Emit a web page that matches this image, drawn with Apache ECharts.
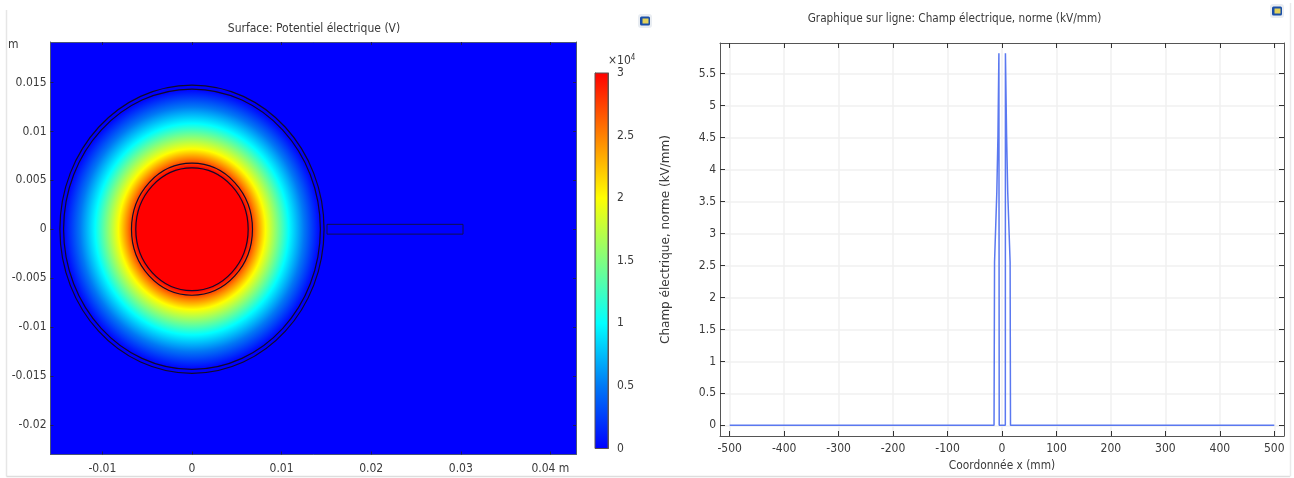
<!DOCTYPE html>
<html>
<head>
<meta charset="utf-8">
<style>html,body{margin:0;padding:0;background:#fff}#c{width:1294px;height:478px}</style>
<script src="https://cdn.jsdelivr.net/npm/echarts@6/dist/echarts.min.js"></script>
</head>
<body>
<div id="c"></div>
<script>
// --- values ---
const fieldXTicks = [-0.01, 0, 0.01, 0.02, 0.03, 0.04];
const fieldYTicks = [-0.02, -0.015, -0.01, -0.005, 0, 0.005, 0.01, 0.015];
const scaleTicks = [0, 0.5, 1, 1.5, 2, 2.5, 3];
const scaleColours = ['#0000ff', '#0078f5', '#00ffff', '#80ff80', '#ffff00', '#ff8000', '#ff0000'];
// potential (x10^4 V) read along a radius (m)
const profileRadius = [0.0063, 0.0072, 0.0082, 0.0095, 0.0108, 0.0125, 0.01433];
const profilePotential = [3, 2.5, 2, 1.5, 1, 0.5, 0];
const ringRadii = [0.00627, 0.00675, 0.01433, 0.01474];
const slotX = [0.01507, 0.03025, 0.03025, 0.01507, 0.01507];
const slotY = [-0.0005, -0.0005, 0.0005, 0.0005, -0.0005];

const lineXTicks = [-500, -400, -300, -200, -100, 0, 100, 200, 300, 400, 500];
const lineYTicks = [0, 0.5, 1, 1.5, 2, 2.5, 3, 3.5, 4, 4.5, 5, 5.5];
const coordX = [-500, -14.6, -13.7, -9.5, -7.4, -5.7, -5.3, -5.1, 6.1, 6.3, 6.7, 8.4, 10.5, 14.9, 15.6, 500];
const fieldNorm = [0, 0, 2.55, 3.65, 4.55, 5.82, 5.82, 0, 0, 5.82, 5.82, 4.55, 3.65, 2.55, 0, 0];

const font = 'DejaVu Sans Condensed';
const txt = '#3a3a3a';

function colourOf(v) {
  return scaleColours[scaleTicks.indexOf(v)];
}
const outerR = profileRadius[profileRadius.length - 1];
const radialStops = [{offset: 0, color: colourOf(3)}].concat(
  profileRadius.map((r, i) => ({offset: r / outerR, color: colourOf(profilePotential[i])}))
);
const barStops = scaleTicks.map(v => ({offset: v / 3, color: colourOf(v)}));

function axisBase(extra) {
  return Object.assign({
    type: 'value', scale: true,
    axisLine: {show: true, onZero: false, lineStyle: {color: '#4a5578', width: 1}},
    axisTick: {show: true, inside: true, length: 3, lineStyle: {color: '#1a1a60', width: 1}},
    axisLabel: {show: false},
    splitLine: {show: false}
  }, extra);
}
function withTicks(ax, ticks, labels, opts) {
  ax.axisTick.customValues = ticks;
  if (labels) {
    ax.axisLabel = Object.assign({show: true, customValues: ticks, fontFamily: font, fontSize: 12,
      color: txt, hideOverlap: false, showMinLabel: true, showMaxLabel: true}, opts);
  }
  return ax;
}

const fieldXRange = {min: -0.01579, max: 0.04286};
const fieldYRange = {min: -0.02303, max: 0.01914};
const lineXRange = {min: -517.8, max: 517.8};
const lineYRange = {min: -0.167, max: 5.98};

const xAxes = [
  withTicks(axisBase(Object.assign({gridIndex: 0, position: 'bottom'}, fieldXRange)), fieldXTicks, true,
    {margin: 8, formatter: v => v === 0.04 ? '0.04 m' : String(v)}),
  withTicks(axisBase(Object.assign({gridIndex: 0, position: 'top'}, fieldXRange)), fieldXTicks),
  withTicks(axisBase(Object.assign({gridIndex: 1, position: 'bottom', name: 'Coordonnée x (mm)', nameLocation: 'middle',
    nameGap: 23, nameTextStyle: {fontFamily: font, fontSize: 11.8, color: txt}}, lineXRange)), lineXTicks, true,
    {margin: 7, formatter: v => String(v)}),
  withTicks(axisBase(Object.assign({gridIndex: 1, position: 'top'}, lineXRange)), lineXTicks),
  axisBase({gridIndex: 2, min: 0, max: 1, show: false})
];
xAxes[2].axisLine.lineStyle.color = xAxes[3].axisLine.lineStyle.color = '#555';
xAxes[2].axisTick.length = xAxes[3].axisTick.length = 5;
xAxes[2].axisTick.lineStyle.color = xAxes[3].axisTick.lineStyle.color = '#333';
xAxes[2].splitLine = {show: true, lineStyle: {color: '#f0f0f0', width: 1.5}};

const yAxes = [
  withTicks(axisBase(Object.assign({gridIndex: 0, position: 'left', name: 'm', nameLocation: 'end', nameGap: 0,
    nameTextStyle: {fontFamily: font, fontSize: 12, color: txt, align: 'right', verticalAlign: 'top', padding: [-3, 32, 0, 0]}}, fieldYRange)),
    fieldYTicks, true, {margin: 4, formatter: v => String(v)}),
  withTicks(axisBase(Object.assign({gridIndex: 0, position: 'right'}, fieldYRange)), fieldYTicks),
  withTicks(axisBase(Object.assign({gridIndex: 1, position: 'left', name: 'Champ électrique, norme (kV/mm)', nameLocation: 'middle',
    nameGap: 48, nameTextStyle: {fontFamily: 'DejaVu Sans', fontSize: 12, color: txt}}, lineYRange)), lineYTicks, true,
    {margin: 4, formatter: v => String(v)}),
  withTicks(axisBase(Object.assign({gridIndex: 1, position: 'right'}, lineYRange)), lineYTicks),
  withTicks(axisBase({gridIndex: 2, position: 'right', min: 0, max: 3, name: '{a|×10}{b|4}', nameLocation: 'end', nameGap: 5,
    nameTextStyle: {align: 'left', padding: [0, 0, 0, 0], rich: {
      a: {fontFamily: font, fontSize: 12, color: txt},
      b: {fontFamily: font, fontSize: 8, color: txt, verticalAlign: 'top', padding: [0, 0, 6, 0]}
    }}}), scaleTicks, true, {margin: 9, formatter: v => String(v)}),
  withTicks(axisBase({gridIndex: 2, position: 'left', min: 0, max: 3}), scaleTicks)
];
yAxes[2].axisLine.lineStyle.color = yAxes[3].axisLine.lineStyle.color = '#555';
yAxes[2].axisTick.length = yAxes[3].axisTick.length = 5;
yAxes[2].axisTick.lineStyle.color = yAxes[3].axisTick.lineStyle.color = '#333';
yAxes[2].splitLine = {show: true, lineStyle: {color: '#f0f0f0', width: 1.5}};
[4, 5].forEach(i => { yAxes[i].axisTick.length = 2; yAxes[i].axisTick.lineStyle.color = '#333'; yAxes[i].axisLine.lineStyle.color = '#6b5a50'; });

function icon(cx, cy) {
  return {type: 'group', x: cx, y: cy, children: [
    {type: 'rect', shape: {x: -7, y: -7, width: 14, height: 14, r: 3}, style: {fill: '#e9edf2'}},
    {type: 'rect', shape: {x: -5, y: -4.5, width: 10, height: 9, r: 1.5}, style: {fill: '#1a4fa8'}},
    {type: 'rect', shape: {x: -2.5, y: -2.5, width: 6, height: 5}, style: {fill: '#e3d25a'}}
  ]};
}

const option = {
  animation: false,
  backgroundColor: '#ffffff',
  title: [
    {text: 'Surface: Potentiel électrique (V)', left: 309, top: 18, textAlign: 'center',
      textStyle: {fontFamily: font, fontSize: 12, fontWeight: 'normal', color: txt}},
    {text: 'Graphique sur ligne: Champ électrique, norme (kV/mm)', left: 949.5, top: 8, textAlign: 'center',
      textStyle: {fontFamily: font, fontSize: 11.7, fontWeight: 'normal', color: txt}}
  ],
  grid: [
    {left: 50.5, top: 42, width: 525.5, height: 412.5, show: true, backgroundColor: '#0000ff', borderWidth: 0},
    {left: 720, top: 43, width: 564, height: 393},
    {left: 595, top: 73, width: 13, height: 375.5}
  ],
  xAxis: xAxes,
  yAxis: yAxes,
  graphic: [
    {type: 'line', shape: {x1: 6.5, y1: 10, x2: 6.5, y2: 476.5}, style: {stroke: '#e6e6e6', lineWidth: 1.5}},
    {type: 'line', shape: {x1: 6.5, y1: 476.5, x2: 1290, y2: 476.5}, style: {stroke: '#dddddd', lineWidth: 1.5}},
    {type: 'line', shape: {x1: 1290.5, y1: 3, x2: 1290.5, y2: 476.5}, style: {stroke: '#eaeaea', lineWidth: 1.5}},
    icon(645, 21),
    icon(1277, 11)
  ],
  series: [
    {
      name: 'Potentiel', type: 'custom', coordinateSystem: 'cartesian2d', xAxisIndex: 0, yAxisIndex: 0,
      data: [[0, 0, outerR]], encode: {x: 0, y: 1}, silent: true, z: 2,
      renderItem(params, api) {
        const c = api.coord([api.value(0), api.value(1)]);
        const s = api.size([api.value(2), api.value(2)]);
        return {type: 'circle', x: c[0], y: c[1], scaleX: 1, scaleY: s[1] / s[0],
          shape: {cx: 0, cy: 0, r: s[0]},
          style: {fill: {type: 'radial', x: 0.5, y: 0.5, r: 0.5, colorStops: radialStops}}};
      }
    },
    {
      name: 'Géométrie', type: 'custom', coordinateSystem: 'cartesian2d', xAxisIndex: 0, yAxisIndex: 0,
      data: ringRadii.map(r => [0, 0, r]), encode: {x: 0, y: 1}, silent: true, z: 3,
      renderItem(params, api) {
        const c = api.coord([api.value(0), api.value(1)]);
        const s = api.size([api.value(2), api.value(2)]);
        return {type: 'ellipse', shape: {cx: c[0], cy: c[1], rx: s[0], ry: s[1]},
          style: {fill: 'none', stroke: '#120a2a', lineWidth: 1.2}};
      }
    },
    {
      name: 'Fente', type: 'line', xAxisIndex: 0, yAxisIndex: 0, showSymbol: false, silent: true, z: 3,
      data: slotX.map((x, i) => [x, slotY[i]]),
      lineStyle: {color: '#101050', width: 1}
    },
    {
      name: 'Champ électrique', type: 'line', xAxisIndex: 2, yAxisIndex: 2, showSymbol: false, z: 3,
      data: coordX.map((x, i) => [x, fieldNorm[i]]),
      lineStyle: {color: '#5a78f0', width: 1.5}
    },
    {
      name: 'Échelle', type: 'custom', coordinateSystem: 'cartesian2d', xAxisIndex: 4, yAxisIndex: 4,
      data: [[0, 1, 0, 3]], encode: {x: [0, 1], y: [2, 3]}, silent: true, z: 1,
      renderItem(params, api) {
        const a = api.coord([api.value(0), api.value(3)]);
        const b = api.coord([api.value(1), api.value(2)]);
        return {type: 'rect', shape: {x: a[0], y: a[1], width: b[0] - a[0], height: b[1] - a[1]},
          style: {fill: {type: 'linear', x: 0, y: 1, x2: 0, y2: 0, colorStops: barStops},
            stroke: '#5a5050', lineWidth: 1}};
      }
    }
  ]
};
const chart = echarts.init(document.getElementById('c'), null, {renderer: 'canvas', width: 1294, height: 478});
chart.setOption(option);
</script>
</body>
</html>
